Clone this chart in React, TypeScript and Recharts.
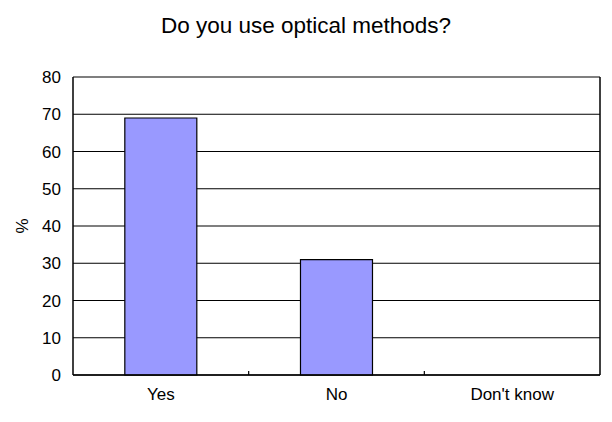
import {
  BarChart,
  Bar,
  XAxis,
  YAxis,
  CartesianGrid,
  Label,
} from 'recharts';

const categories = ['Yes', 'No', "Don't know"];
const percents = [69, 31, 0];
const yTicks = [0, 10, 20, 30, 40, 50, 60, 70, 80];

const font = '"Liberation Sans", Arial, sans-serif';
const LABEL_GAP = 13;

// category label plus the small inward tick on the category's right edge
function CategoryTick(props: any) {
  const { x, y, payload, index, width, visibleTicksCount } = props;
  const band = width / visibleTicksCount;
  const axisY = y - LABEL_GAP;
  return (
    <g>
      {index < visibleTicksCount - 1 && (
        <line
          x1={x + band / 2}
          x2={x + band / 2}
          y1={axisY}
          y2={axisY - 4}
          stroke="#000"
          strokeWidth={1.2}
        />
      )}
      <text
        x={x}
        y={y}
        dy="0.71em"
        textAnchor="middle"
        fontSize={17}
        fontFamily={font}
        fill="#000"
      >
        {payload.value}
      </text>
    </g>
  );
}

export default function App() {
  const data = categories.map((name, i) => ({ name, value: percents[i] }));

  return (
    <div style={{ position: 'absolute', left: 0, top: 0, width: 612, height: 422, background: '#fff' }}>
      <div
        style={{
          position: 'absolute',
          left: 0,
          width: 612,
          top: 13,
          textAlign: 'center',
          fontFamily: font,
          fontSize: 22.5,
          color: '#000',
        }}
      >
        Do you use optical methods?
      </div>
      <BarChart
        width={612}
        height={422}
        data={data}
        margin={{ top: 77, right: 0, bottom: 0, left: 0 }}
        barCategoryGap="29.5%"
      >
        <CartesianGrid vertical={false} stroke="#000" strokeWidth={1.2} />
        <XAxis
          dataKey="name"
          axisLine={{ stroke: '#000', strokeWidth: 1.5 }}
          tickLine={false}
          tickSize={0}
          tickMargin={LABEL_GAP}
          height={47}
          interval={0}
          tick={CategoryTick}
        />
        <YAxis
          domain={[0, 80]}
          ticks={yTicks}
          width={73}
          axisLine={{ stroke: '#000', strokeWidth: 1.5 }}
          tickLine={false}
          tickSize={8}
          tickMargin={4}
          tick={{ fontSize: 17, fill: '#000', fontFamily: font }}
        >
          <Label
            value="%"
            angle={-90}
            position="insideLeft"
            offset={22}
            style={{ fontSize: 17, fill: '#000', fontFamily: font, textAnchor: 'middle' }}
          />
        </YAxis>
        <YAxis
          yAxisId="r"
          orientation="right"
          domain={[0, 80]}
          width={12}
          tick={false}
          tickLine={false}
          axisLine={{ stroke: '#000', strokeWidth: 1.5 }}
        />
        <Bar
          dataKey="value"
          fill="#9999ff"
          stroke="#000"
          strokeWidth={1.2}
          isAnimationActive={false}
        />
      </BarChart>
    </div>
  );
}
